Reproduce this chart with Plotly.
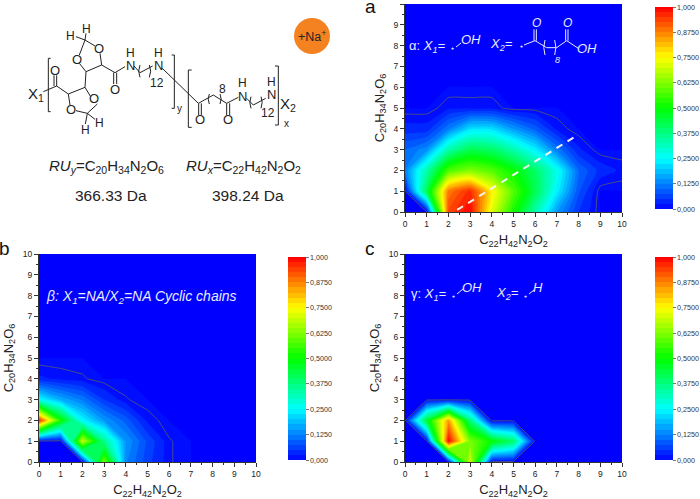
import plotly.graph_objects as go

W, H = 700, 499
axis_values = list(range(11))
colorbar_ticks = [0, .125, .25, .375, .5, .625, .75, .875, 1]
colorbar_labels = ["0,000", "0,1250", "0,2500", "0,3750", "0,5000", "0,6250", "0,7500", "0,8750", "1,000"]

# rows are y = 0..10, columns x = 0..10
alpha_z = [
    [0, 0, .93, 1.0, .72, .52, .33, .15, .05, 0, 0],
    [0, .42, .88, .96, .76, .58, .42, .24, .08, 0, 0],
    [.12, .33, .57, .62, .58, .50, .40, .27, .10, .04, .02],
    [.10, .14, .33, .42, .40, .33, .24, .12, .03, 0, 0],
    [.035, .035, .12, .22, .22, .15, .09, .02, 0, 0, 0],
    [0, 0, .02, .02, .02, 0, 0, 0, 0, 0, 0],
] + [[0] * 11 for _ in range(5)]

beta_z = [
    [0, 0, 0, .62, .13, .06, .012, 0, 0, 0, 0],
    [0, 0, .70, .36, .15, .07, .012, 0, 0, 0, 0],
    [.97, .52, .25, .15, .09, .02, 0, 0, 0, 0, 0],
    [.26, .17, .12, .05, .012, 0, 0, 0, 0, 0, 0],
    [.03, .02, .013, 0, 0, 0, 0, 0, 0, 0, 0],
] + [[0] * 11 for _ in range(6)]

gamma_z = [
    [0, 0, 0, .72, 0, 0, 0, 0, 0, 0, 0],
    [0, 0, 1.0, .62, .50, .40, 0, 0, 0, 0, 0],
    [0, .45, .85, .38, 0, 0, 0, 0, 0, 0, 0],
] + [[0] * 11 for _ in range(8)]

panels = [
    dict(z=alpha_z, box=(405, 622, 4, 212), cb=(655, 7, 209), smooth=.5, xa="x", ya="y"),
    dict(z=beta_z, box=(39, 256, 254, 462), cb=(288, 257, 460), smooth=0, xa="x2", ya="y2"),
    dict(z=gamma_z, box=(405, 622, 254, 462), cb=(655, 257, 460), smooth=0, xa="x3", ya="y3"),
]
SCALE = [[0, "#0000ff"], [.25, "#00ffff"], [.5, "#00ff00"], [.75, "#ffff00"], [1, "#ff0000"]]
FONT = "Liberation Sans"
XT = "C<sub>22</sub>H<sub>42</sub>N<sub>2</sub>O<sub>2</sub>"
YT = "C<sub>20</sub>H<sub>34</sub>N<sub>2</sub>O<sub>6</sub>"


def px(x):
    return x / W


def py(y):
    return 1 - y / H


fig = go.Figure()
layout = dict(
    width=W, height=H, autosize=False, margin=dict(l=0, r=0, t=0, b=0, autoexpand=False),
    paper_bgcolor="white", plot_bgcolor="#0000ff", showlegend=False,
    font=dict(family=FONT, color="#222222"),
)
for i, p in enumerate(panels):
    x0, x1, y0, y1 = p["box"]
    cx, ct, cb = p["cb"]
    fig.add_trace(go.Contour(
        x=axis_values, y=axis_values, z=p["z"], xaxis=p["xa"], yaxis=p["ya"],
        zmin=0, zmax=1, colorscale=SCALE, autocontour=False,
        contours=dict(start=0, end=1, size=.025, coloring="fill", showlines=False),
        line=dict(width=0, smoothing=p["smooth"]), hoverinfo="skip",
        colorbar=dict(
            x=px(cx), xanchor="left", xpad=0, thickness=18, lenmode="pixels", len=cb - ct,
            y=py((ct + cb) / 2), yanchor="middle", ypad=0, outlinewidth=0,
            tickmode="array", tickvals=colorbar_ticks, ticktext=colorbar_labels,
            ticks="outside", ticklen=3, tickwidth=1, tickcolor="#777777",
            tickfont=dict(size=7.2, family=FONT, color="#333333"),
        ),
    ))
    fig.add_trace(go.Contour(
        x=axis_values, y=axis_values, z=p["z"], xaxis=p["xa"], yaxis=p["ya"], showscale=False,
        autocontour=False, contours=dict(start=.01, end=.01, size=1, coloring="none"),
        line=dict(width=1, color="#474f85", smoothing=p["smooth"]), hoverinfo="skip",
    ))
    suffix = "" if i == 0 else str(i + 1)
    common = dict(
        range=[0, 10], tick0=0, dtick=1, ticks="outside", ticklen=4, tickwidth=1, tickcolor="#333333",
        showline=True, linecolor="#333333", linewidth=1, showgrid=False, zeroline=False,
        tickfont=dict(size=8.5, family=FONT, color="#222222"),
        minor=dict(dtick=.5, ticks="outside", ticklen=2, tickcolor="#333333", showgrid=False),
    )
    layout["xaxis" + suffix] = dict(
        common, domain=[px(x0), px(x1)], anchor=p["ya"],
        title=dict(text=XT, font=dict(size=13, family=FONT, color="#222222"), standoff=6),
    )
    layout["yaxis" + suffix] = dict(
        common, domain=[py(y1), py(y0)], anchor=p["xa"],
        title=dict(text=YT, font=dict(size=13, family=FONT, color="#222222"), standoff=6),
    )

shapes = []
annotations = []


def line(points, color="#222222", width=1):
    path = "M " + " L ".join(f"{px(a)},{py(b)}" for a, b in points)
    shapes.append(dict(type="path", path=path, xref="paper", yref="paper",
                       line=dict(color=color, width=width), layer="above"))


def zline(points, color="#222222", width=1, dx=0):
    line([(a / 3 + dx, b / 3) for a, b in points], color, width)


def arc(x0, y0, x1, y1, bend, color="#222222", width=1):
    mx, my = (x0 + x1) / 2 + bend, (y0 + y1) / 2
    path = f"M {px(x0)},{py(y0)} Q {px(mx)},{py(my)} {px(x1)},{py(y1)}"
    shapes.append(dict(type="path", path=path, xref="paper", yref="paper",
                       line=dict(color=color, width=width), layer="above"))


def text(t, x, y, size=13, color="#222222", anchor="center"):
    annotations.append(dict(text=t, x=px(x), y=py(y), xref="paper", yref="paper", showarrow=False,
                            xanchor=anchor, yanchor="middle", font=dict(size=size, color=color, family=FONT)))


def ztext(t, x, y, size=13, color="#222222"):
    text(t, x / 3, y / 3, size, color)


# chemical structure (coordinates in 3x zoomed reference pixels)
for seg in [
    [(152, 175), (145, 175), (145, 335), (152, 335)],
    [(130, 275), (170, 258), (205, 282), (255, 262), (272, 290)],
    [(292, 312), (262, 340), (228, 332)], [(205, 282), (210, 315)],
    [(262, 340), (285, 358)], [(262, 340), (256, 372)],
    [(162, 258), (162, 226)], [(170, 258), (170, 226)],
    [(255, 262), (258, 215), (238, 190)], [(238, 165), (255, 120), (285, 138)],
    [(300, 160), (305, 195), (258, 215)], [(255, 120), (228, 110)], [(255, 120), (258, 100)],
    [(305, 195), (345, 218), (375, 200)], [(341, 218), (341, 252)], [(350, 218), (350, 252)],
    [(402, 198), (420, 218), (458, 198)],
    [(515, 165), (523, 165), (523, 325), (515, 325)],
    [(487, 205), (595, 310), (640, 285), (680, 310), (715, 292)],
    [(575, 210), (565, 210), (565, 382), (575, 382)],
    [(596, 310), (596, 345), ], [(604, 310), (604, 345)],
    [(680, 310), (680, 345)], [(689, 310), (689, 345)],
    [(740, 295), (760, 315), (797, 295)],
    [(825, 198), (835, 198), (835, 375), (825, 375)],
]:
    zline(seg)
for ax, ay, bx, by, bend in [(420, 195, 420, 232, -8), (448, 195, 448, 232, 8),
                             (628, 282, 628, 312, -7), (660, 282, 660, 312, 7),
                             (753, 290, 753, 325, -7), (783, 290, 783, 325, 7)]:
    arc(ax / 3, ay / 3, bx / 3, by / 3, bend / 3)
for t, x, y, s in [
    ("X<sub>1</sub>", 108, 285, 15), ("O", 165, 210, 13), ("O", 283, 297, 13), ("O", 212, 328, 13),
    ("H", 297, 368, 12), ("H", 255, 390, 12), ("O", 230, 178, 13), ("O", 298, 147, 13),
    ("H", 212, 107, 12), ("H", 258, 88, 12), ("O", 345, 268, 13), ("N", 390, 195, 13), ("H", 390, 160, 12),
    ("N", 475, 197, 13), ("H", 475, 160, 12), ("12", 472, 250, 12), ("y", 538, 325, 10),
    ("O", 600, 358, 13), ("O", 685, 358, 13), ("8", 668, 268, 12), ("N", 728, 290, 13), ("H", 728, 250, 12),
    ("N", 815, 283, 13), ("H", 815, 245, 12), ("12", 805, 340, 12), ("x", 858, 370, 10),
    ("X<sub>2</sub>", 865, 312, 15),
]:
    ztext(t, x, y, s)
text("<i>RU<sub>y</sub></i>=C<sub>20</sub>H<sub>34</sub>N<sub>2</sub>O<sub>6</sub>", 106, 166, 15)
text("<i>RU<sub>x</sub></i>=C<sub>22</sub>H<sub>42</sub>N<sub>2</sub>O<sub>2</sub>", 243, 166, 15)
text("366.33 Da", 111, 196, 15.5)
text("398.24 Da", 248, 196, 15.5)
shapes.append(dict(type="circle", xref="paper", yref="paper", x0=px(294), x1=px(330), y0=py(18), y1=py(54),
                   fillcolor="#f58220", line=dict(width=0), layer="above"))
text("+Na<sup>+</sup>", 312, 36, 12.5)

# panel letters
text("a", 370, 6, 19, "#111111")
text("b", 4, 248, 19, "#111111")
text("c", 370, 249, 19, "#111111")

# white annotations
WHITE = "#e8ecff"
it = lambda s: f"<i>{s}</i>"
text("α: " + it("X<sub>1</sub>="), 427, 47, 13, WHITE)
text("⋆", 452, 49, 8, WHITE)
line([(456, 47), (461, 43)], WHITE)
text(it("OH"), 471, 40, 13, WHITE)
text(it("X<sub>2</sub>="), 501, 45, 13, WHITE)
text("⋆", 521, 47, 8, WHITE)
zline([(522, 135), (555, 122), (590, 143), (620, 143), (650, 122), (685, 145)], WHITE, dx=350)
zline([(552, 122), (552, 88)], WHITE, dx=350)
zline([(559, 122), (559, 88)], WHITE, dx=350)
zline([(647, 122), (647, 88)], WHITE, dx=350)
zline([(654, 122), (654, 88)], WHITE, dx=350)
arc(350 + 585 / 3, 120 / 3, 350 + 585 / 3, 165 / 3, -2.5, WHITE)
arc(350 + 614 / 3, 120 / 3, 350 + 614 / 3, 165 / 3, 2.5, WHITE)
text(it("O"), 536, 23, 12, WHITE)
text(it("O"), 567, 23, 12, WHITE)
text(it("OH"), 587, 49, 13, WHITE)
text(it("8"), 557, 60, 9, WHITE)

text(it("β: X<sub>1</sub>=NA/X<sub>2</sub>=NA Cyclic chains"), 141, 297, 14, WHITE)

text("γ: " + it("X<sub>1</sub>="), 428, 294, 13, WHITE)
text("⋆", 453, 296, 8, WHITE)
line([(457, 294), (463, 289)], WHITE)
text(it("OH"), 472, 287, 13, WHITE)
text(it("X<sub>2</sub>="), 507, 293, 13, WHITE)
text("⋆", 525, 296, 8, WHITE)
line([(529, 294), (534, 290)], WHITE)
text(it("H"), 538, 287, 13, WHITE)

# dashed ridge line in panel a
shapes.append(dict(type="line", xref="x", yref="y", x0=2.4, y0=.1, x1=7.8, y1=3.6, layer="above",
                   line=dict(color="#f4f4f4", width=2, dash="7px,6px")))

layout["shapes"] = shapes
layout["annotations"] = annotations
fig.update_layout(**layout)
fig.write_html("out.html", config={"displayModeBar": False},
               post_script="document.body.style.margin='0';document.documentElement.style.overflow='hidden';")
